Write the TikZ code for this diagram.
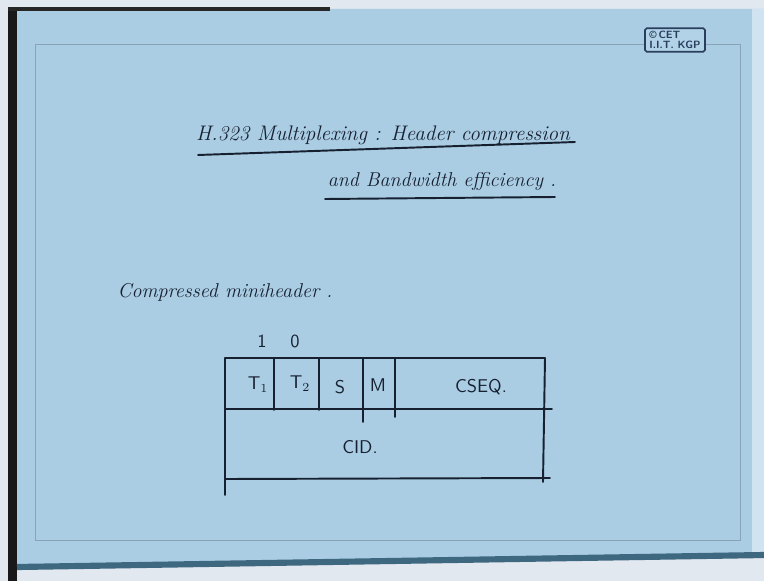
\documentclass[tikz,border=0pt]{standalone}
\usepackage{tikz}
\usetikzlibrary{calc,positioning}
\definecolor{slideblue}{RGB}{170,205,228}
\definecolor{inkdark}{RGB}{22,32,48}
\definecolor{edgeblue}{RGB}{62,104,128}
\definecolor{deskwhite}{RGB}{226,232,240}
\definecolor{logoblue}{RGB}{40,62,92}
\tikzset{
  inkline/.style={draw=inkdark,line width=1.1pt,line cap=round},
  faintline/.style={draw=slideblue!80!black,line width=0.5pt},
  handfont/.style={text=inkdark,font=\fontsize{12}{15}\selectfont\itshape},
  smallhand/.style={text=inkdark,font=\fontsize{11.4}{14}\selectfont\itshape},
  cellfont/.style={text=inkdark,font=\fontsize{10.5}{12}\selectfont\sffamily},
}
\newcommand{\fieldbar}[3]{\draw[inkline] (#1,358) -- (#2,#3);}

\begin{document}
\begin{tikzpicture}[x=0.02cm,y=-0.02cm]
  \useasboundingbox (0,0) rectangle (764,581);
  \fill[deskwhite] (0,0) rectangle (764,581);
  \fill[slideblue] (8,9) -- (764,9) -- (764,555) -- (8,568) -- cycle;
  \fill[slideblue!55!white] (752,9) rectangle (764,553);
  \fill[black!90] (8,8) rectangle (17,581);
  \fill[black!85] (8,7) rectangle (330,11);
  \draw[edgeblue,line width=3.5pt] (17,567) -- (764,555);
  \draw[faintline] (35,44) rectangle (740,540);

  \node[draw=logoblue,line width=0.9pt,rounded corners=1pt,fill=slideblue!90!white,
        text=logoblue,font=\sffamily\bfseries\fontsize{6}{6}\selectfont,
        align=left,minimum width=1.2cm,minimum height=0.47cm,inner sep=1pt]
        (logo) at (675,40) {\copyright\,CET\\I.I.T. KGP};

  \node[handfont] (title1) at (383,135) {H.323 Multiplexing : Header compression};
  \node[smallhand] (title2) at (442,181) {and Bandwidth efficiency .};
  \coordinate (u1a) at (198,155); \coordinate (u1b) at (575,142);
  \coordinate (u2a) at (325,199); \coordinate (u2b) at (555,197);
  \draw[inkline] (u1a) -- (u1b);
  \draw[inkline] (u2a) -- (u2b);

  \node[smallhand] (mini) at (225,292) {Compressed miniheader .};

  \coordinate (tl) at (225,358); \coordinate (tr) at (545,358);
  \coordinate (ml) at (225,409); \coordinate (mr) at (552,409);
  \coordinate (bl) at (225,479); \coordinate (br) at (550,478);
  \coordinate (lend) at (225,495); \coordinate (rend) at (543,482);
  \draw[inkline] (tl) -- (tr);
  \draw[inkline] (ml) -- (mr);
  \draw[inkline] (bl) -- (br);
  \draw[inkline] (tl) -- (lend);
  \draw[inkline] (tr) -- (rend);
  \fieldbar{274}{274}{410}\fieldbar{319}{319}{410}
  \fieldbar{363}{363}{422}\fieldbar{395}{395}{417}

  \node[cellfont] (t1) at (258,385) {T$_1$};
  \node[cellfont] (t2) at (300,384) {T$_2$};
  \node[cellfont] (s) at (340,387) {S};
  \node[cellfont] (m) at (378,385) {M};
  \node[cellfont] (cseq) at (481,387) {CSEQ.};
  \node[cellfont] (cid) at (360,447) {CID.};
  \node[cellfont] (one) at (262,341) {1};
  \node[cellfont] (zero) at (295,341) {0};
\end{tikzpicture}
\end{document}
